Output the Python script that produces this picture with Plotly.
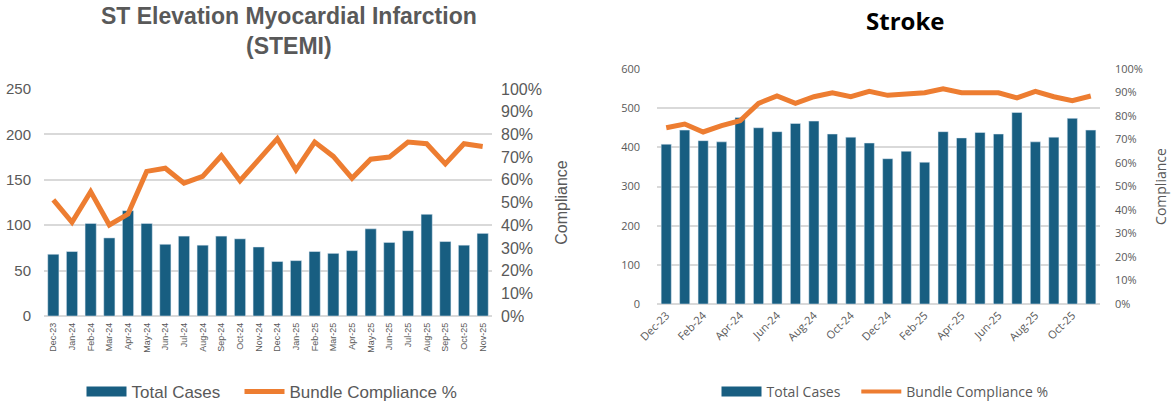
import plotly.graph_objects as go

months = ["Dec-23", "Jan-24", "Feb-24", "Mar-24", "Apr-24", "May-24", "Jun-24", "Jul-24",
          "Aug-24", "Sep-24", "Oct-24", "Nov-24", "Dec-24", "Jan-25", "Feb-25", "Mar-25",
          "Apr-25", "May-25", "Jun-25", "Jul-25", "Aug-25", "Sep-25", "Oct-25", "Nov-25"]

stemi_cases = [68, 71, 102, 86, 116, 102, 79, 88, 78, 88, 85, 76,
               60, 61, 71, 69, 72, 96, 81, 94, 112, 82, 78, 91]
stemi_compliance = [0.512, 0.413, 0.548, 0.401, 0.449, 0.637, 0.651, 0.585, 0.615, 0.706, 0.596, 0.688,
                    0.781, 0.644, 0.766, 0.703, 0.607, 0.691, 0.700, 0.766, 0.759, 0.670, 0.759, 0.747]

stroke_cases = [408, 444, 417, 414, 476, 450, 440, 461, 467, 434, 426, 411,
                371, 390, 362, 440, 424, 438, 434, 489, 414, 426, 474, 444]
stroke_compliance = [0.750, 0.766, 0.732, 0.759, 0.780, 0.854, 0.885, 0.854, 0.882, 0.899, 0.882, 0.905,
                     0.888, 0.894, 0.899, 0.916, 0.899, 0.899, 0.899, 0.877, 0.905, 0.882, 0.865, 0.885]

stroke_tick_labels = months[::2]

BAR = "#185e81"
ORANGE = "#ed7d31"
GRID = "#d9d9d9"
TXT = "#595959"
W, H = 1173, 405
LF = "Liberation Sans, Arial, sans-serif"
RF = "Open Sans, Noto Sans, sans-serif"
PAD = "\u00a0\u00a0\u00a0"

fig = go.Figure()

# ---- STEMI chart ----
fig.add_trace(go.Bar(x=months, y=stemi_cases, name="Total Cases", marker_color=BAR,
                     width=0.6, xaxis="x", yaxis="y", showlegend=False))
fig.add_trace(go.Scatter(x=months, y=stemi_compliance, name="Bundle Compliance %", mode="lines",
                         line=dict(color=ORANGE, width=5), xaxis="x", yaxis="y2", showlegend=False))
fig.add_trace(go.Scatter(x=[None], y=[None], name="Total Cases" + PAD, mode="lines",
                         line=dict(color=BAR, width=10), xaxis="x", yaxis="y", legend="legend"))
fig.add_trace(go.Scatter(x=[None], y=[None], name="Bundle Compliance %", mode="lines",
                         line=dict(color=ORANGE, width=5), xaxis="x", yaxis="y2", legend="legend"))

# ---- Stroke chart ----
fig.add_trace(go.Bar(x=months, y=stroke_cases, name="Total Cases", marker_color=BAR,
                     width=0.55, xaxis="x2", yaxis="y3", showlegend=False))
fig.add_trace(go.Scatter(x=months, y=stroke_compliance, name="Bundle Compliance %", mode="lines",
                         line=dict(color=ORANGE, width=5), xaxis="x2", yaxis="y4", showlegend=False))
fig.add_trace(go.Scatter(x=[None], y=[None], name="Total Cases" + PAD, mode="lines",
                         line=dict(color=BAR, width=10), xaxis="x2", yaxis="y3", legend="legend2"))
fig.add_trace(go.Scatter(x=[None], y=[None], name="Bundle Compliance %", mode="lines",
                         line=dict(color=ORANGE, width=4), xaxis="x2", yaxis="y4", legend="legend2"))

fig.update_layout(
    width=W, height=H,
    margin=dict(l=0, r=0, t=0, b=0, autoexpand=False),
    paper_bgcolor="white", plot_bgcolor="white",
    xaxis=dict(domain=[44 / W, 492 / W], anchor="y", type="category", automargin=False,
               categoryorder="array", categoryarray=months,
               tickangle=-90, tickfont=dict(family=LF, size=9, color=TXT),
               showgrid=False, showline=False, ticks="", ticklabelstandoff=4),
    yaxis=dict(domain=[(H - 316) / H, (H - 89) / H], range=[0, 250], dtick=50, automargin=False,
               showgrid=True, gridcolor=GRID, gridwidth=2, zeroline=True,
               zerolinecolor=GRID, zerolinewidth=2, ticklabelstandoff=12,
               tickfont=dict(family=LF, size=15, color=TXT)),
    yaxis2=dict(overlaying="y", anchor="x", side="right", range=[0, 1], dtick=0.1, automargin=False,
                tickformat=".0%", showgrid=False, zeroline=False, ticklabelstandoff=8,
                tickfont=dict(family=LF, size=16, color=TXT),
                title=dict(text="Compliance", font=dict(family=LF, size=16, color=TXT), standoff=14)),
    xaxis2=dict(domain=[657 / W, 1100 / W], anchor="y3", type="category", automargin=False,
                categoryorder="array", categoryarray=months,
                tickmode="array", tickvals=stroke_tick_labels, ticktext=stroke_tick_labels,
                tickangle=-45, tickfont=dict(family=RF, size=11, color=TXT),
                showgrid=False, showline=False, ticks="", ticklabelstandoff=2),
    yaxis3=dict(domain=[(H - 304) / H, (H - 69) / H], range=[0, 600], dtick=100, anchor="x2",
                automargin=False,
                showgrid=True, gridcolor=GRID, gridwidth=1.5, zeroline=True,
                zerolinecolor=GRID, zerolinewidth=1.5, ticklabelstandoff=16,
                tickfont=dict(family=RF, size=11, color=TXT)),
    yaxis4=dict(overlaying="y3", anchor="x2", side="right", range=[0, 1], dtick=0.1, automargin=False,
                tickformat=".0%", showgrid=False, zeroline=False, ticklabelstandoff=14,
                tickfont=dict(family=RF, size=11, color=TXT),
                title=dict(text="Compliance", font=dict(family=RF, size=14, color=TXT), standoff=14)),
    legend=dict(orientation="h", x=272 / W, y=(H - 392) / H, xanchor="center", yanchor="middle",
                font=dict(family=LF, size=17, color=TXT), itemwidth=40,
                bgcolor="rgba(0,0,0,0)"),
    legend2=dict(orientation="h", x=885 / W, y=(H - 392) / H, xanchor="center", yanchor="middle",
                 font=dict(family=RF, size=14, color=TXT), itemwidth=40,
                 bgcolor="rgba(0,0,0,0)"),
    annotations=[
        dict(text="<b>ST Elevation Myocardial Infarction<br>(STEMI)</b>", x=289 / W, y=(H - 31) / H,
             xref="paper", yref="paper", xanchor="center", yanchor="middle", showarrow=False,
             font=dict(family=LF, size=23, color=TXT)),
        dict(text="<b>Stroke</b>", x=905 / W, y=(H - 20) / H,
             xref="paper", yref="paper", xanchor="center", yanchor="middle", showarrow=False,
             font=dict(family=RF, size=24, color="black")),
    ],
)

fig.write_html("out.html", config={"displayModeBar": False},
               post_script="document.body.style.margin='0';document.body.style.overflow='hidden';")
